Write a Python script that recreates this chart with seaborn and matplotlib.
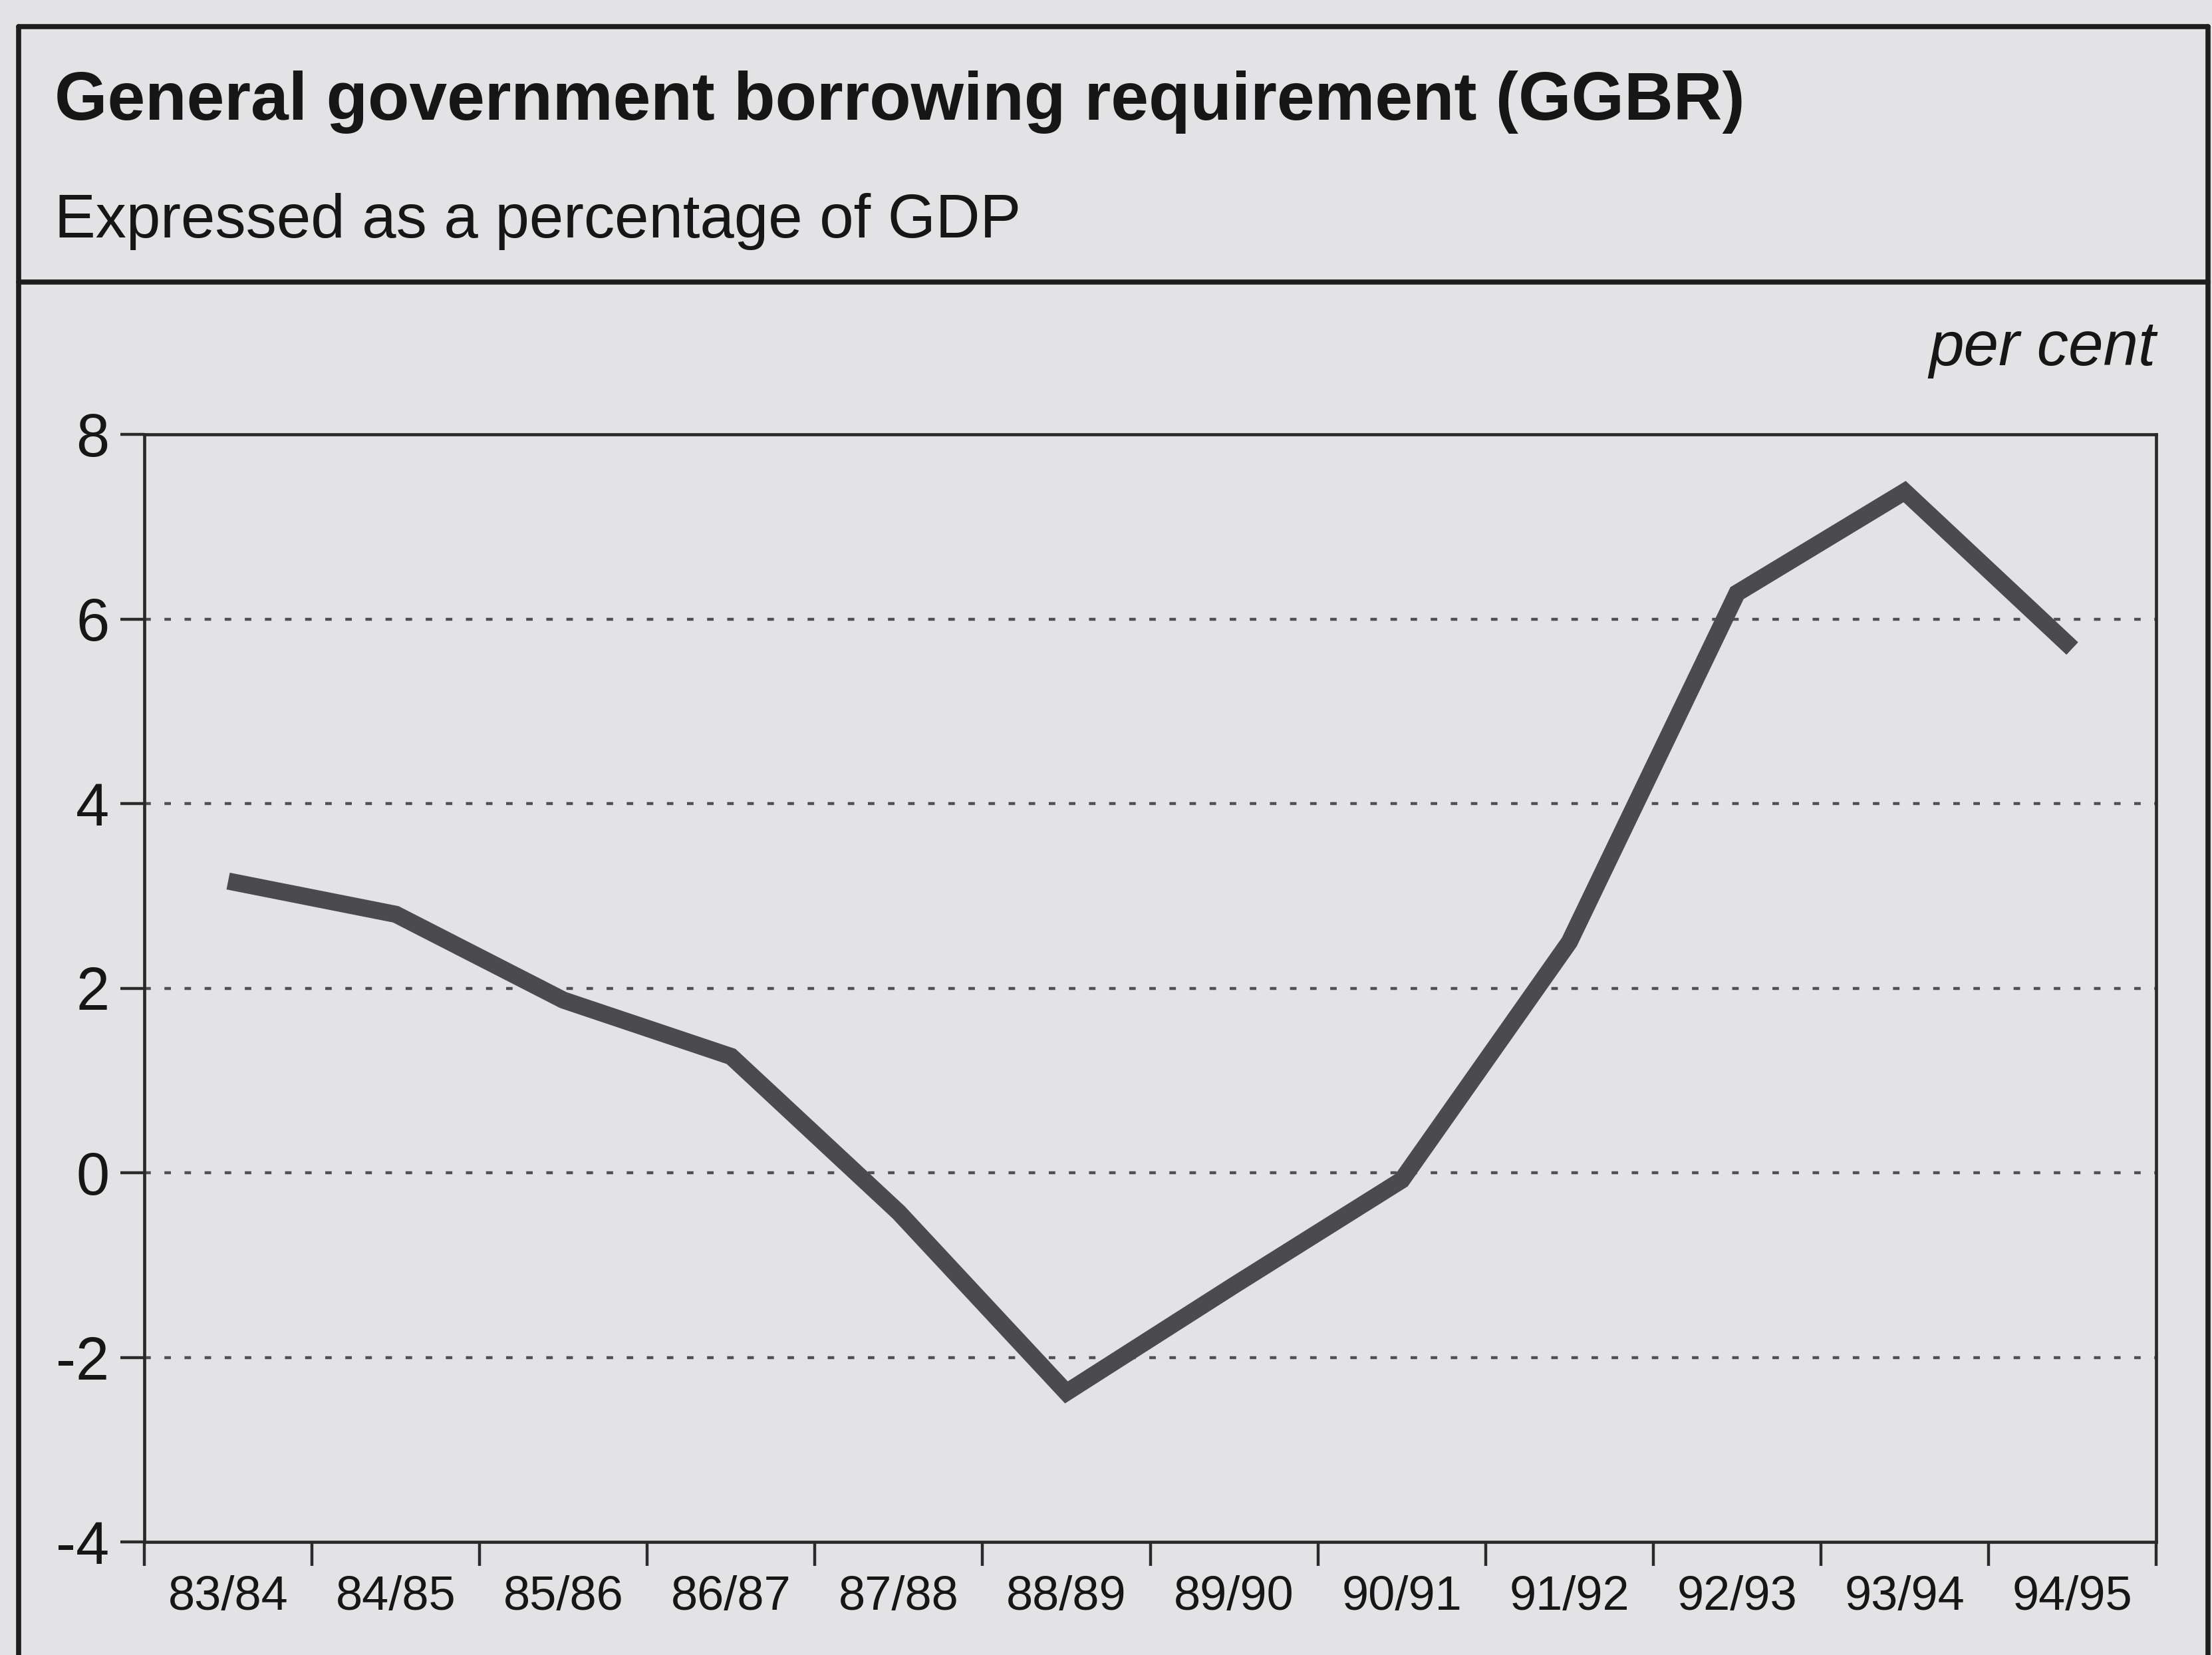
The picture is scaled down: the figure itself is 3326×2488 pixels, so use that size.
import matplotlib
matplotlib.use("Agg")
import matplotlib.pyplot as plt
from matplotlib.lines import Line2D
import seaborn as sns
import pandas as pd

# ---- data ----
years = ["83/84", "84/85", "85/86", "86/87", "87/88", "88/89",
         "89/90", "90/91", "91/92", "92/93", "93/94", "94/95"]
ggbr = [3.16, 2.80, 1.87, 1.26, -0.43, -2.38,
        -1.22, -0.08, 2.50, 6.28, 7.38, 5.68]
yticks = [-4, -2, 0, 2, 4, 6, 8]
title = "General government borrowing requirement (GGBR)"
subtitle = "Expressed as a percentage of GDP"
unit = "per cent"

sns.set_theme(style="white")
plt.rcParams['font.family'] = ['Liberation Sans', 'DejaVu Sans']

BG = "#e3e3e5"
INK = "#161616"
LINE = "#4b4b4d"
W, H = 3326, 2488
DPI = 100
fig = plt.figure(figsize=(W / DPI, H / DPI), dpi=DPI, facecolor=BG)

L, R, T, B = 217, 3242, 653, 2318
ax = fig.add_axes([L / W, 1 - B / H, (R - L) / W, (B - T) / H])
ax.set_facecolor(BG)

df = pd.DataFrame({"year": years, "ggbr": ggbr})
df["pos"] = range(len(years))
sns.lineplot(data=df, x="pos", y="ggbr", ax=ax, color=LINE, linewidth=18.5,
             sort=False, solid_joinstyle="miter", solid_capstyle="butt", zorder=3)

ax.set_xlim(-0.5, len(years) - 0.5)
ax.set_ylim(-4, 8)
ax.set_xlabel("")
ax.set_ylabel("")

# grid lines (dotted)
for v in yticks:
    if v not in (-4, 8):
        ax.axhline(v, color="#505052", linewidth=3.2,
                   linestyle=(0, (2.2, 4.6)), zorder=1)

for s in ax.spines.values():
    s.set_color("#2a2a2a")
    s.set_linewidth(3.4)

ax.set_yticks(yticks)
ax.set_yticklabels([str(v) for v in yticks])
ax.tick_params(axis="y", which="major", direction="out", length=26, width=3.2,
               color="#2a2a2a", labelsize=65, labelcolor=INK, pad=12, left=True)

# x: boundaries as major ticks, labels at centres (minor)
ax.set_xticks([i - 0.5 for i in range(len(years) + 1)])
ax.set_xticklabels([""] * (len(years) + 1))
ax.set_xticks(list(range(len(years))), minor=True)
ax.set_xticklabels(years, minor=True)
ax.tick_params(axis="x", which="major", direction="out", length=26, width=3.2,
               color="#2a2a2a", bottom=True)
ax.tick_params(axis="x", which="minor", length=0, labelsize=52,
               labelcolor=INK, pad=36, bottom=True)

# ---- outer frame and header ----
fc = "#1e1e1e"
lw = 5.5
fx0, fx1, fy0, fsep = 28 / W, 3320 / W, 1 - 40 / H, 1 - 424 / H
fig.add_artist(Line2D([fx0, fx1], [fy0, fy0], color=fc, lw=lw, transform=fig.transFigure))
fig.add_artist(Line2D([fx0, fx1], [fsep, fsep], color=fc, lw=lw, transform=fig.transFigure))
fig.add_artist(Line2D([fx0, fx0], [0, fy0], color=fc, lw=lw, transform=fig.transFigure))
fig.add_artist(Line2D([fx1, fx1], [0, fy0], color=fc, lw=lw, transform=fig.transFigure))

fig.text(82 / W, 1 - 180 / H, title, fontsize=73.5, fontweight="bold", color=INK,
         ha="left", va="baseline")
fig.text(82 / W, 1 - 357 / H, subtitle, fontsize=66.5, color=INK,
         ha="left", va="baseline")
fig.text(R / W, 1 - 549 / H, unit, fontsize=68, fontstyle="italic", color=INK,
         ha="right", va="baseline")

fig.savefig("out.png", dpi=DPI, facecolor=BG)
